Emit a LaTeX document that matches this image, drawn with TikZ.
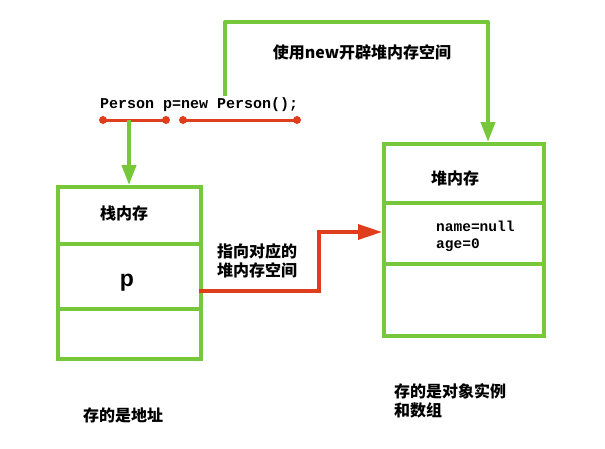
\documentclass[tikz,border=0pt]{standalone}
\usepackage{fontspec}
\newfontfamily\cjk{Noto Sans CJK SC}
\newfontfamily\codefont{Liberation Mono}
\newfontfamily\sansb{Liberation Sans}
\usetikzlibrary{arrows.meta}
\definecolor{boxgreen}{RGB}{118,200,58}
\definecolor{linered}{RGB}{222,62,30}
\tikzset{
  cell/.style={draw=boxgreen, line width=4pt, minimum width=143pt, inner sep=0pt, anchor=north west},
  hcell/.style={cell, minimum width=160pt},
  garrow/.style={draw=boxgreen, line width=4pt, -{Triangle[length=20pt,width=14pt]}},
  rline/.style={draw=linered, line width=3pt},
  rarrow/.style={draw=linered, line width=3.5pt, -{Triangle[length=24pt,width=15pt]}},
  dot/.style={circle, fill=linered, inner sep=0pt, minimum size=8pt},
  cjklabel/.style={font=\cjk\bfseries\fontsize{16}{19}\selectfont, inner sep=0pt},
  codelabel/.style={font=\codefont\bfseries\fontsize{15}{17}\selectfont, inner sep=0pt},
}
\begin{document}
\begin{tikzpicture}[x=1pt,y=-1pt]
\useasboundingbox (0,0) rectangle (605,448);
% stack
\node[cell, minimum height=57pt] (s1) at (56,185) {};
\node[cell, minimum height=65pt] (s2) at (56,242) {};
\node[cell, minimum height=50pt] (s3) at (56,307) {};
% heap
\node[hcell, minimum height=59pt] (h1) at (382,142) {};
\node[hcell, minimum height=61pt] (h2) at (382,201) {};
\node[hcell, minimum height=72pt] (h3) at (382,262) {};
% texts in boxes
\node[cjklabel] (stacklbl) at (124,213) {栈内存};
\node[font=\sansb\bfseries\fontsize{23}{25}\selectfont, inner sep=0pt] (plbl) at (127,283) {p};
\node[cjklabel] (heaplbl) at (455,178) {堆内存};
\node[codelabel, anchor=west, align=left, font=\codefont\bfseries\fontsize{14.5}{17}\selectfont] (fields) at (436,236) {name=null\\age=0};
% code
\node[codelabel, anchor=west] (code) at (100,105) {Person p=new Person();};
\coordinate (r1a) at (103,120);
\coordinate (r1b) at (166,120);
\coordinate (r1m) at (129,120);
\coordinate (r2a) at (183,120);
\coordinate (r2b) at (297,120);
\draw[rline] (r1a) -- (r1b);
\draw[rline] (r2a) -- (r2b);
\node[dot] (d1) at (r1a) {};
\node[dot] (d2) at (r1b) {};
\node[dot] (d3) at (r2a) {};
\node[dot] (d4) at (r2b) {};
% green arrows
\draw[garrow] (r1m) -- (r1m |- s1.north);
\coordinate (g0) at (225,96);
\coordinate (g1) at (225,22);
\coordinate (g2) at (488,22);
\draw[garrow, line join=round] (g0) -- (g1) -- (g2) -- (g2 |- h1.north);
\node[cjklabel] (newlbl) at (362,52) {使用new开辟堆内存空间};
% red arrow
\coordinate (ra) at (199,291);
\coordinate (rb) at (319,291);
\coordinate (rc) at (319,232);
\draw[rarrow] (ra) -- (rb) -- (rc) -- (rc -| h2.west);
\node[cjklabel, anchor=north west, align=left] (pointlbl) at (217,243) {指向对应的\\堆内存空间};
% bottom labels
\node[cjklabel, anchor=west] (addrlbl) at (83,415) {存的是地址};
\node[cjklabel, anchor=north west, align=left] (objlbl) at (394,383) {存的是对象实例\\和数组};
\end{tikzpicture}
\end{document}
